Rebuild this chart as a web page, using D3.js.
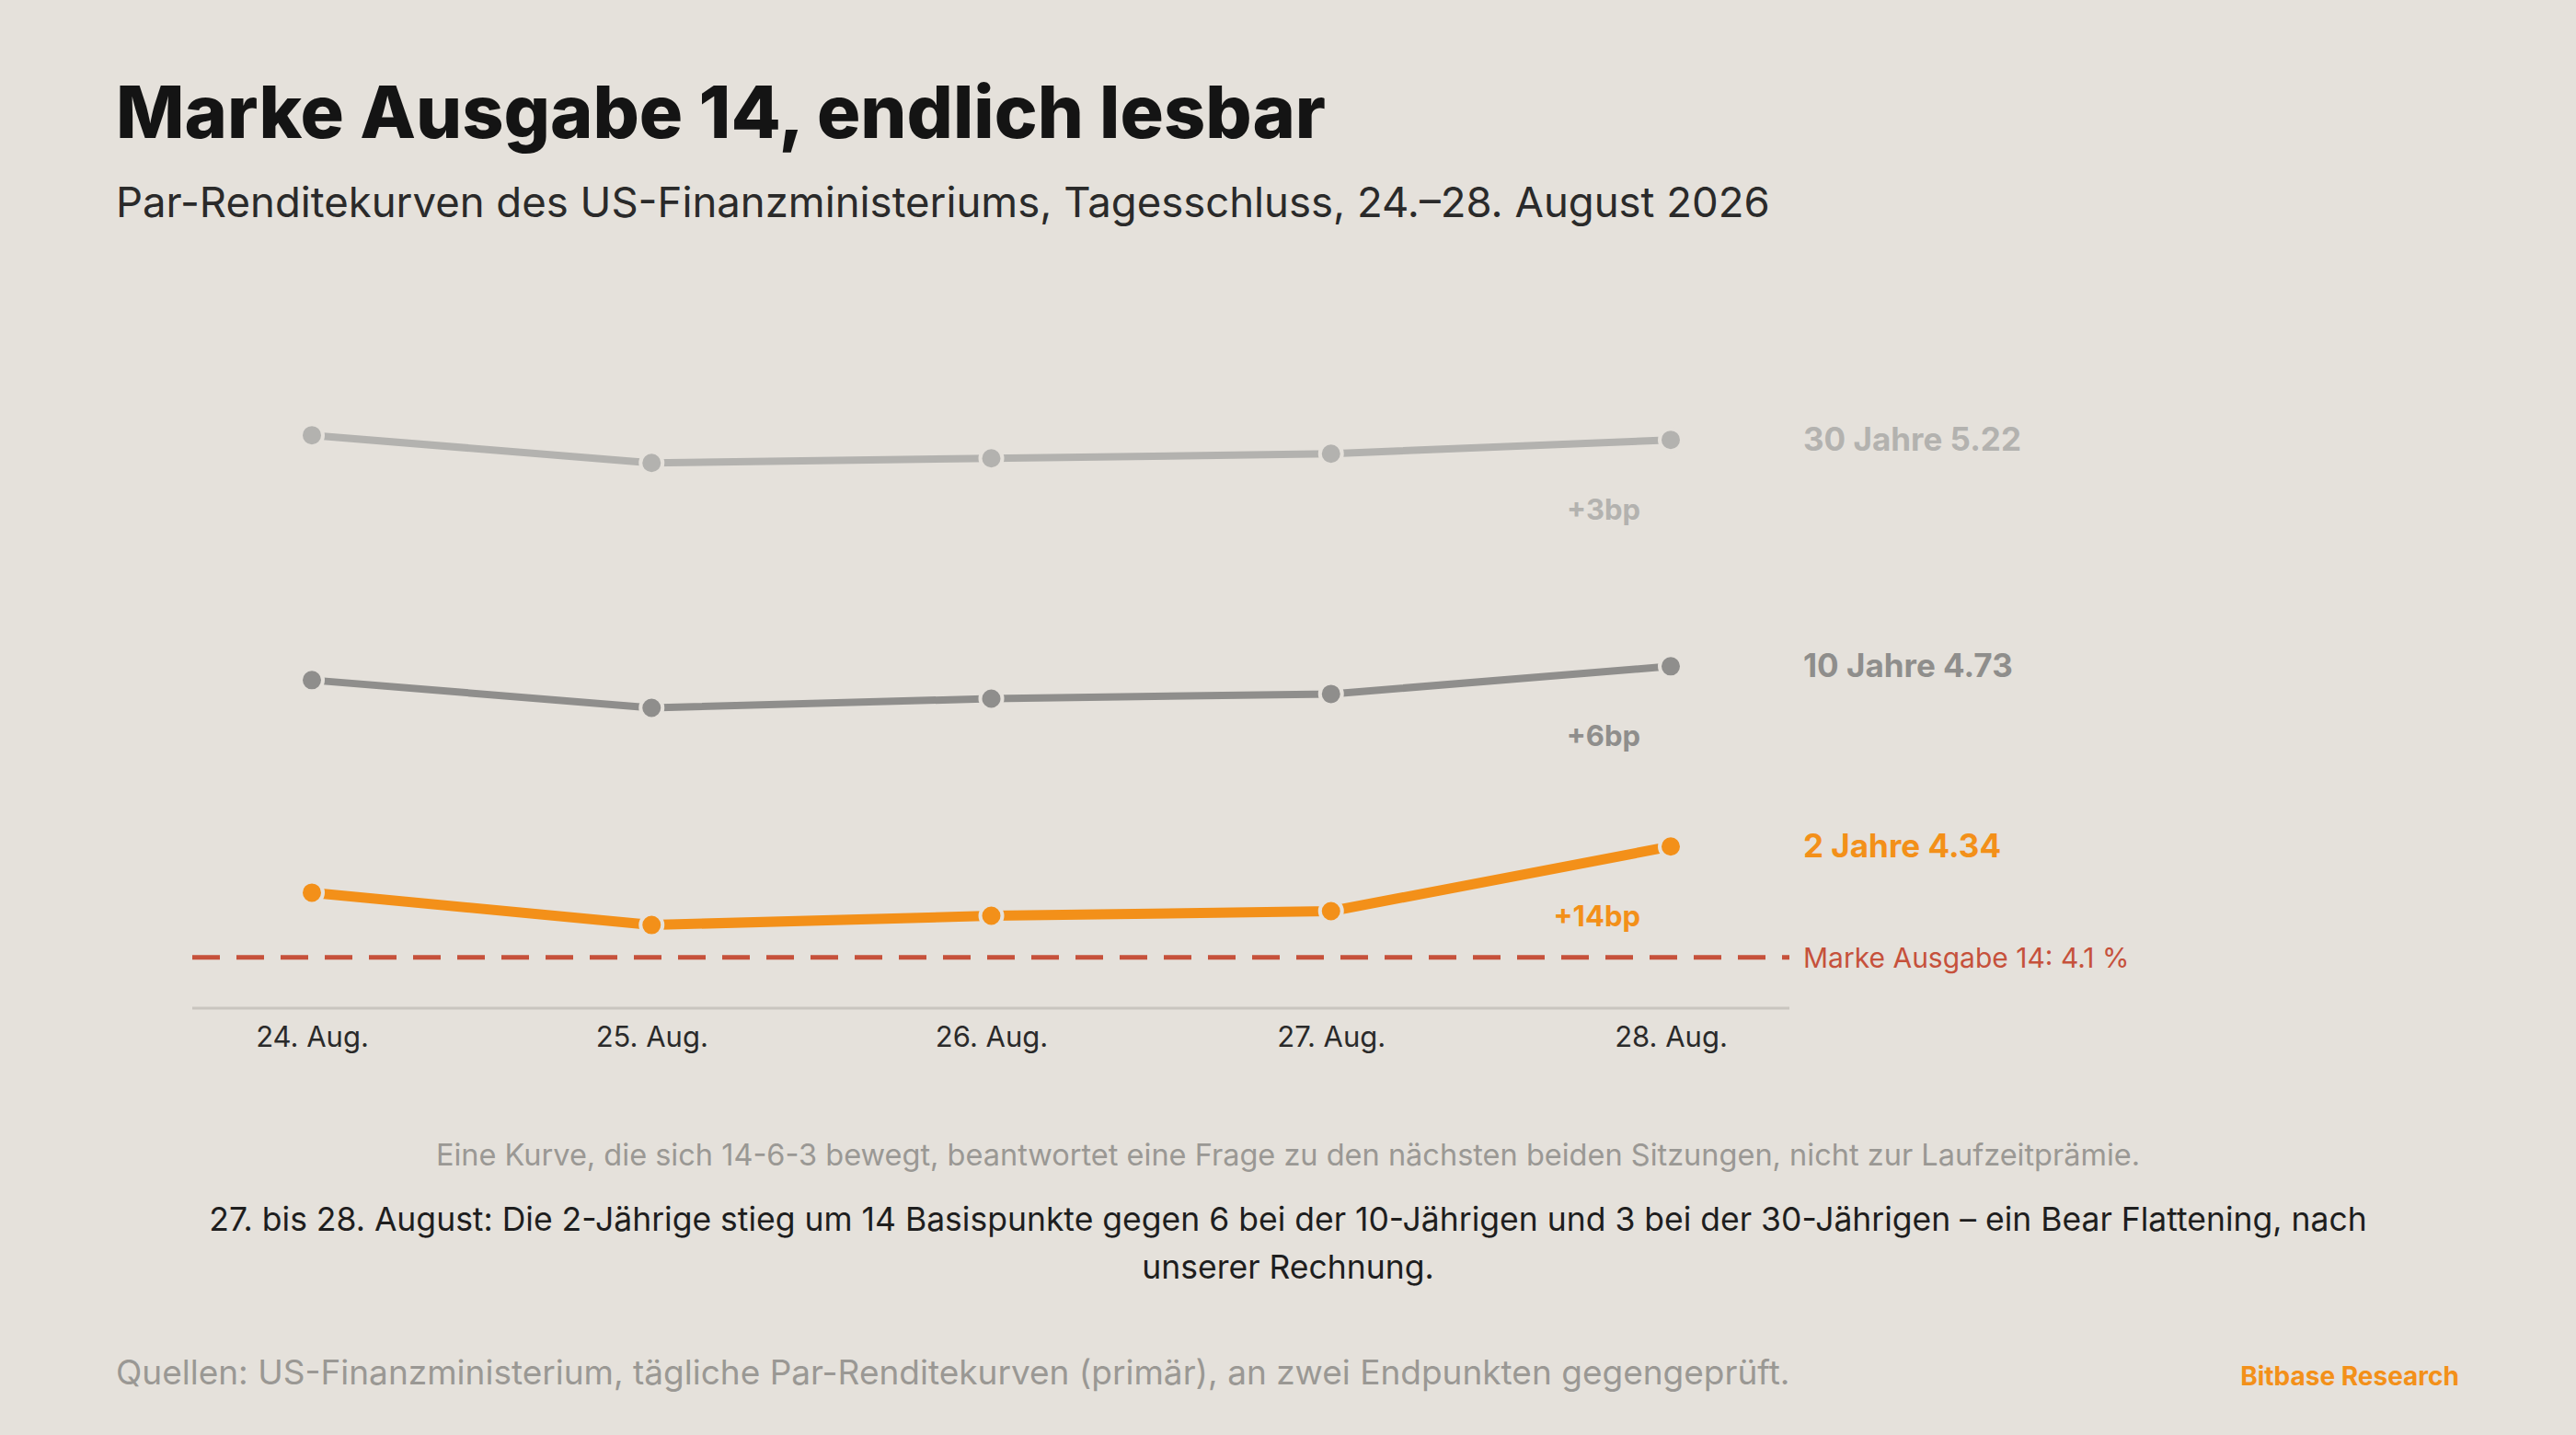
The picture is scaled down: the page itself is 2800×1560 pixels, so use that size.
<!DOCTYPE html>
<html><head><meta charset="utf-8">
<script src="https://cdn.jsdelivr.net/npm/d3@7"></script>
<style>body{margin:0;background:#e5e1db;}svg{display:block;font-family:Inter,"Open Sans",sans-serif;}</style>
</head><body><svg id="c" width="2800" height="1560"></svg>
<script>
const days = ["24. Aug.","25. Aug.","26. Aug.","27. Aug.","28. Aug."];
const y2 = [4.24,4.17,4.19,4.20,4.34];
const y10 = [4.70,4.64,4.66,4.67,4.73];
const y30 = [5.23,5.17,5.18,5.19,5.22];
const seriesNames = ["30 Jahre","10 Jahre","2 Jahre"];
const changes = ["+3bp","+6bp","+14bp"];
const marke = 4.1;

const svg = d3.select("#c");
const x = d3.scalePoint().domain(days).range([339,1816]);
const y = d3.scaleLinear().domain([3.99,5.3]).range([1096,438]);

svg.append("text").attr("x",126).attr("y",150).attr("font-size",79).attr("font-weight",800).attr("fill","#141414").text("Marke Ausgabe 14, endlich lesbar");
svg.append("text").attr("x",126).attr("y",236).attr("font-size",45.5).attr("fill","#2a2a2a").text("Par-Renditekurven des US-Finanzministeriums, Tagesschluss, 24.–28. August 2026");

svg.append("line").attr("x1",209).attr("x2",1945).attr("y1",y(3.99)).attr("y2",y(3.99)).attr("stroke","#c9c5bf").attr("stroke-width",3);
const ax = svg.append("g").attr("transform",`translate(0,${y(3.99)})`).call(d3.axisBottom(x).tickSize(0).tickPadding(20));
ax.select(".domain").remove();
ax.selectAll("text").attr("font-size",31).attr("fill","#2a2a2a").attr("font-family","Inter,sans-serif");

svg.append("line").attr("x1",209).attr("x2",1945).attr("y1",y(marke)).attr("y2",y(marke)).attr("stroke","#c6513b").attr("stroke-width",5).attr("stroke-dasharray","30,18");
svg.append("text").attr("x",1960).attr("y",y(marke)+11).attr("font-size",30).attr("fill","#c6513b").text("Marke Ausgabe 14: "+d3.format(".1f")(marke)+" %");

const series=[
 {name:seriesNames[0],vals:y30,col:"#b3b2af",w:8,chg:changes[0]},
 {name:seriesNames[1],vals:y10,col:"#8f8e8c",w:8,chg:changes[1]},
 {name:seriesNames[2],vals:y2,col:"#f39019",w:11,chg:changes[2]}];
const line=d3.line().x((d,i)=>x(days[i])).y(d=>y(d));
series.forEach(s=>{
  svg.append("path").attr("d",line(s.vals)).attr("fill","none").attr("stroke",s.col).attr("stroke-width",s.w).attr("stroke-linejoin","round");
  svg.selectAll(null).data(s.vals).enter().append("circle").attr("cx",(d,i)=>x(days[i])).attr("cy",d=>y(d)).attr("r",12).attr("fill",s.col).attr("stroke","#e5e1db").attr("stroke-width",4);
  const last=s.vals[s.vals.length-1];
  svg.append("text").attr("x",1960).attr("y",y(last)+12).attr("font-size",35).attr("font-weight",700).attr("fill",s.col).text(s.name+" "+d3.format(".2f")(last));
  svg.append("text").attr("x",1783).attr("y",y(last)+87).attr("text-anchor","end").attr("font-size",31).attr("font-weight",700).attr("fill",s.col).text(s.chg);
});

svg.append("text").attr("x",1400).attr("y",1267).attr("text-anchor","middle").attr("font-size",32.5).attr("fill","#9a9894").text("Eine Kurve, die sich 14-6-3 bewegt, beantwortet eine Frage zu den nächsten beiden Sitzungen, nicht zur Laufzeitprämie.");
svg.append("text").attr("x",1400).attr("y",1338).attr("text-anchor","middle").attr("font-size",35.5).attr("fill","#1e1e1e").text("27. bis 28. August: Die 2-Jährige stieg um 14 Basispunkte gegen 6 bei der 10-Jährigen und 3 bei der 30-Jährigen – ein Bear Flattening, nach");
svg.append("text").attr("x",1400).attr("y",1390).attr("text-anchor","middle").attr("font-size",35.5).attr("fill","#1e1e1e").text("unserer Rechnung.");
svg.append("text").attr("x",126).attr("y",1505).attr("font-size",37).attr("fill","#9a9894").text("Quellen: US-Finanzministerium, tägliche Par-Renditekurven (primär), an zwei Endpunkten gegengeprüft.");
svg.append("text").attr("x",2673).attr("y",1506).attr("text-anchor","end").attr("font-size",28).attr("font-weight",700).attr("fill","#f39019").text("Bitbase Research");
</script></body></html>
